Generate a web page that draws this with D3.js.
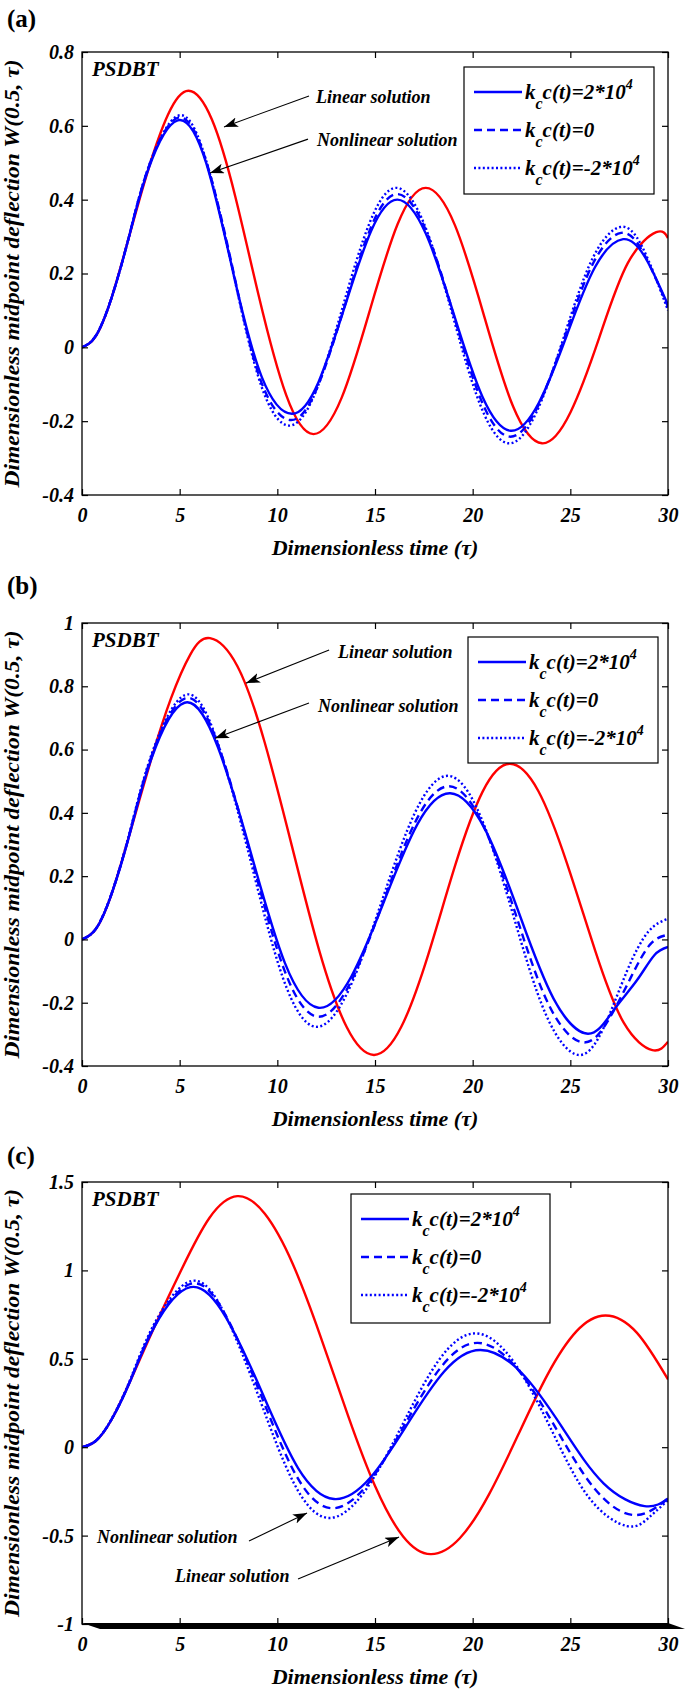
<!DOCTYPE html>
<html><head><meta charset="utf-8">
<script src="https://cdn.jsdelivr.net/npm/d3@7"></script>
<style>
body{margin:0;background:#fff}
svg{display:block}
text{font-family:'Liberation Serif','Times New Roman',serif;}
</style>
</head><body>
<script>
// ---------- data ----------
const tDomain = [0, 30];
const xTicks = [0, 5, 10, 15, 20, 25, 30];
const yTicksA = [-0.4, -0.2, 0, 0.2, 0.4, 0.6, 0.8];
const yTicksB = [-0.4, -0.2, 0, 0.2, 0.4, 0.6, 0.8, 1];
const yTicksC = [-1, -0.5, 0, 0.5, 1, 1.5];
const legendLabels = [
  {main: "c(t)=2*10", sup: "4"},
  {main: "c(t)=0", sup: ""},
  {main: "c(t)=-2*10", sup: "4"}
];
const xTitle = "Dimensionless time (τ)";
const yTitle = "Dimensionless midpoint deflection W(0.5, τ)";

// panel (a): [tau, W]
const aLinear = [[0,0],[0.7,0.03],[1.5,0.132],[2.4,0.298],[3.4,0.483],[4.4,0.63],[5.45,0.695],[6.65,0.617],[7.85,0.408],[9.05,0.139],[10.45,-0.129],[11.85,-0.235],[13.29,-0.137],[14.73,0.099],[16.16,0.334],[17.6,0.432],[19.09,0.331],[20.58,0.086],[22.06,-0.159],[23.55,-0.26],[25.01,-0.176],[26.48,0.026],[27.94,0.228],[29.4,0.312],[30,0.296]];
const aKcPos = [[0,0],[0.7,0.03],[1.5,0.132],[2.4,0.298],[3.4,0.483],[4.9,0.615],[6.36,0.499],[7.75,0.2],[9.2,-0.08],[10.75,-0.18],[12.1,-0.095],[13.45,0.11],[14.8,0.315],[16.15,0.4],[17.6,0.308],[19.05,0.087],[20.5,-0.134],[21.95,-0.226],[23.39,-0.15],[24.83,0.034],[26.26,0.217],[27.7,0.293],[28.85,0.242],[30,0.115]];
const aKcZero = [[0,0],[0.7,0.031],[1.5,0.132],[2.4,0.299],[3.4,0.487],[4.92,0.622],[6.37,0.502],[7.75,0.205],[9.15,-0.09],[10.7,-0.197],[12.06,-0.107],[13.43,0.109],[14.79,0.325],[16.15,0.415],[17.59,0.319],[19.03,0.087],[20.46,-0.146],[21.9,-0.242],[23.33,-0.161],[24.75,0.034],[26.18,0.229],[27.6,0.31],[28.75,0.255],[30,0.11]];
const aKcNeg = [[0,0],[0.7,0.031],[1.5,0.132],[2.4,0.299],[3.4,0.488],[4.95,0.628],[6.36,0.505],[7.75,0.2],[9.15,-0.1],[10.6,-0.212],[11.98,-0.118],[13.35,0.11],[14.73,0.338],[16.1,0.432],[17.54,0.331],[18.98,0.086],[20.41,-0.159],[21.85,-0.26],[23.28,-0.174],[24.7,0.033],[26.13,0.24],[27.55,0.326],[28.7,0.27],[30,0.1]];

// panel (b)
const bLinear = [[0,0],[0.7,0.032],[1.5,0.141],[2.45,0.335],[3.55,0.571],[4.55,0.761],[5.55,0.901],[6.55,0.952],[7.95,0.864],[9.35,0.623],[10.75,0.294],[12.15,-0.036],[13.55,-0.277],[14.95,-0.365],[16.34,-0.277],[17.73,-0.047],[19.12,0.237],[20.51,0.467],[21.9,0.555],[23.36,0.469],[24.82,0.242],[26.28,-0.037],[27.74,-0.264],[29.2,-0.35],[30,-0.323]];
const bKcPos = [[0,0],[0.7,0.032],[1.5,0.141],[2.45,0.335],[3.55,0.571],[5.25,0.748],[6.96,0.607],[8.68,0.266],[10.39,-0.075],[12.1,-0.216],[13.79,-0.117],[15.48,0.123],[17.16,0.363],[18.85,0.462],[20.61,0.351],[22.38,0.082],[24.14,-0.187],[25.9,-0.298],[27.2,-0.225],[28.4,-0.13],[29.3,-0.05],[30,-0.024]];
const bKcZero = [[0,0],[0.7,0.033],[1.5,0.142],[2.45,0.338],[3.55,0.578],[5.28,0.762],[6.97,0.615],[8.67,0.259],[10.36,-0.097],[12.05,-0.244],[13.74,-0.137],[15.43,0.12],[17.11,0.377],[18.8,0.484],[20.5,0.366],[22.2,0.08],[23.9,-0.207],[25.6,-0.325],[26.9,-0.26],[28.1,-0.12],[29.1,-0.015],[30,0.015]];
const bKcNeg = [[0,0],[0.7,0.033],[1.5,0.143],[2.45,0.341],[3.55,0.583],[5.3,0.773],[6.96,0.619],[8.63,0.249],[10.29,-0.122],[11.95,-0.276],[13.65,-0.16],[15.35,0.121],[17.05,0.401],[18.75,0.517],[20.41,0.388],[22.08,0.076],[23.74,-0.236],[25.4,-0.365],[26.7,-0.28],[27.9,-0.1],[29.0,0.025],[30,0.065]];

// panel (c)
const cLinear = [[0,0],[0.7,0.035],[1.5,0.154],[2.5,0.382],[3.7,0.679],[5.12,1.011],[6.53,1.298],[7.95,1.42],[9.36,1.32],[10.78,1.039],[12.19,0.633],[13.61,0.182],[15.02,-0.224],[16.44,-0.505],[17.85,-0.605],[19.34,-0.515],[20.83,-0.268],[22.33,0.07],[23.82,0.408],[25.31,0.655],[26.8,0.745],[28.4,0.648],[30,0.383]];
const cKcPos = [[0,0],[0.7,0.035],[1.5,0.154],[2.5,0.382],[3.7,0.679],[5.55,0.905],[7.39,0.73],[9.23,0.306],[11.06,-0.118],[12.9,-0.293],[14.78,-0.17],[16.65,0.129],[18.53,0.427],[20.4,0.55],[22.5,0.421],[24.6,0.109],[26.7,-0.204],[28.8,-0.333],[30,-0.29]];
const cKcZero = [[0,0],[0.7,0.035],[1.5,0.154],[2.5,0.385],[3.7,0.686],[5.6,0.925],[7.39,0.739],[9.18,0.29],[10.96,-0.159],[12.75,-0.345],[14.63,-0.208],[16.5,0.123],[18.38,0.453],[20.25,0.59],[22.26,0.447],[24.28,0.103],[26.29,-0.241],[28.3,-0.384],[30,-0.29]];
const cKcNeg = [[0,0],[0.7,0.036],[1.5,0.157],[2.5,0.391],[3.7,0.698],[5.6,0.94],[7.35,0.744],[9.1,0.27],[10.85,-0.204],[12.6,-0.4],[14.49,-0.247],[16.38,0.122],[18.26,0.491],[20.15,0.644],[22.09,0.484],[24.03,0.099],[25.96,-0.286],[27.9,-0.446],[29.0,-0.4],[30,-0.3]];

// annotations in data units: text anchor, arrow tail, arrow head
const notesA = [
  {text:"Linear solution", at:[11.98,0.662], from:[11.62,0.681], to:[7.27,0.597]},
  {text:"Nonlinear solution", at:[12.03,0.545], from:[11.57,0.564], to:[6.55,0.472]}
];
const notesB = [
  {text:"Linear solution", at:[13.11,0.889], from:[12.65,0.915], to:[8.40,0.81]},
  {text:"Nonlinear solution", at:[12.08,0.719], from:[11.62,0.747], to:[6.81,0.636]}
];
const notesC = [
  {text:"Nonlinear solution", at:[0.77,-0.542], from:[8.55,-0.531], to:[11.52,-0.372]},
  {text:"Linear solution", at:[4.76,-0.762], from:[11.06,-0.745], to:[16.23,-0.508]}
];

// ---------- layout & style ----------
const W = 685, H = 1693;
const plotLeft = 82, plotRight = 668;
const seriesStyle = [
  {color:"#ff0000", dash:null},
  {color:"#0000ff", dash:null},
  {color:"#0000ff", dash:"8,5"},
  {color:"#0000ff", dash:"2,2.4"}
];
const panels = [
  {label:"(a)", labelY:27, top:52, bottom:495, yDomain:[-0.4,0.8], yTicks:yTicksA,
   series:[aLinear,aKcPos,aKcZero,aKcNeg], legend:{x:464,y:67,w:190,h:127}, notes:notesA, band:false},
  {label:"(b)", labelY:594, top:623, bottom:1066, yDomain:[-0.4,1], yTicks:yTicksB,
   series:[bLinear,bKcPos,bKcZero,bKcNeg], legend:{x:468,y:637,w:190,h:126}, notes:notesB, band:false},
  {label:"(c)", labelY:1164, top:1182, bottom:1624, yDomain:[-1,1.5], yTicks:yTicksC,
   series:[cLinear,cKcPos,cKcZero,cKcNeg], legend:{x:351,y:1194,w:199,h:129}, notes:notesC, band:true}
];

const svg = d3.select("body").append("svg").attr("width", W).attr("height", H);
svg.append("rect").attr("width", W).attr("height", H).attr("fill", "#fff");

const defs = svg.append("defs");
defs.append("marker").attr("id","arrow").attr("markerUnits","userSpaceOnUse")
  .attr("markerWidth",16).attr("markerHeight",12).attr("refX",14).attr("refY",5)
  .attr("orient","auto")
  .append("path").attr("d","M0,0 L14,5 L0,10 L3.5,5 Z").attr("fill","#000");

const x = d3.scaleLinear().domain(tDomain).range([plotLeft, plotRight]);
const fmt = d => String(d);

panels.forEach((p, pi) => {
  const y = d3.scaleLinear().domain(p.yDomain).range([p.bottom, p.top]);
  const g = svg.append("g");

  // panel label
  g.append("text").attr("x", 7).attr("y", p.labelY).text(p.label)
    .attr("font-size", 25).attr("font-weight", "bold");

  // clip
  const cid = "clip" + pi;
  defs.append("clipPath").attr("id", cid).append("rect")
    .attr("x", plotLeft).attr("y", p.top).attr("width", plotRight - plotLeft).attr("height", p.bottom - p.top);

  // curves
  const line = d3.line().x(d => x(d[0])).y(d => y(d[1])).curve(d3.curveNatural);
  const cg = g.append("g").attr("clip-path", `url(#${cid})`);
  p.series.forEach((s, si) => {
    const st = seriesStyle[si];
    cg.append("path").attr("d", line(s)).attr("fill", "none")
      .attr("stroke", st.color).attr("stroke-width", 2.4)
      .attr("stroke-dasharray", st.dash).attr("stroke-linejoin", "round");
  });

  // axes (inner ticks on all four sides)
  const axB = g.append("g").attr("transform", `translate(0,${p.bottom})`)
    .call(d3.axisBottom(x).tickValues(xTicks).tickSizeInner(-6).tickSizeOuter(0).tickPadding(13).tickFormat(fmt));
  const axT = g.append("g").attr("transform", `translate(0,${p.top})`)
    .call(d3.axisTop(x).tickValues(xTicks).tickSizeInner(-6).tickSizeOuter(0).tickFormat(""));
  const axL = g.append("g").attr("transform", `translate(${plotLeft},0)`)
    .call(d3.axisLeft(y).tickValues(p.yTicks).tickSizeInner(-6).tickSizeOuter(0).tickPadding(8).tickFormat(fmt));
  const axR = g.append("g").attr("transform", `translate(${plotRight},0)`)
    .call(d3.axisRight(y).tickValues(p.yTicks).tickSizeInner(-6).tickSizeOuter(0).tickFormat(""));
  [axB, axT, axL, axR].forEach(a => {
    a.select(".domain").remove();
    a.selectAll("line").attr("stroke", "#000").attr("stroke-width", 1.2);
    a.selectAll("text").attr("font-size", 20).attr("font-weight", "bold")
      .attr("font-style", "italic").attr("fill", "#000")
      .style("font-family", "'Liberation Serif','Times New Roman',serif");
  });

  // frame
  g.append("rect").attr("x", plotLeft).attr("y", p.top)
    .attr("width", plotRight - plotLeft).attr("height", p.bottom - p.top)
    .attr("fill", "none").attr("stroke", "#000").attr("stroke-width", 1.3);

  // shadow band under bottom axis (panel c)
  if (p.band) {
    const yb = y(p.yDomain[0]);
    g.append("path").attr("fill", "#000")
      .attr("d", `M${x(0)},${yb - 1} L${x(30)},${yb - 1} L${x(30) + 17},${yb + 5} L${x(0) + 18},${yb + 5} Z`);
  }

  // PSDBT
  g.append("text").attr("x", x(0) + 10).attr("y", p.top + 24).text("PSDBT")
    .attr("font-size", 21).attr("font-weight", "bold").attr("font-style", "italic");

  // axis titles
  g.append("text").attr("x", (plotLeft + plotRight) / 2).attr("y", p.bottom + 60)
    .attr("text-anchor", "middle").text(xTitle)
    .attr("font-size", 22).attr("font-weight", "bold").attr("font-style", "italic");
  g.append("text").attr("transform", `translate(19,${(p.top + p.bottom) / 2}) rotate(-90)`)
    .attr("text-anchor", "middle").text(yTitle)
    .attr("textLength", 428).attr("lengthAdjust", "spacingAndGlyphs")
    .attr("font-size", 22).attr("font-weight", "bold").attr("font-style", "italic");

  // annotations
  p.notes.forEach(n => {
    g.append("line").attr("x1", x(n.from[0])).attr("y1", y(n.from[1]))
      .attr("x2", x(n.to[0])).attr("y2", y(n.to[1]))
      .attr("stroke", "#000").attr("stroke-width", 1.1).attr("marker-end", "url(#arrow)");
    g.append("text").attr("x", x(n.at[0])).attr("y", y(n.at[1])).text(n.text)
      .attr("font-size", 18).attr("font-weight", "bold").attr("font-style", "italic");
  });

  // legend
  const L = p.legend;
  const lg = g.append("g");
  lg.append("rect").attr("x", L.x).attr("y", L.y).attr("width", L.w).attr("height", L.h)
    .attr("fill", "#fff").attr("stroke", "#000").attr("stroke-width", 1.2);
  const rowOff = [25, 63, 101];
  legendLabels.forEach((lab, i) => {
    const st = seriesStyle[i + 1];
    const ry = L.y + rowOff[i];
    lg.append("line").attr("x1", L.x + 10).attr("x2", L.x + 58).attr("y1", ry).attr("y2", ry)
      .attr("stroke", st.color).attr("stroke-width", 2.4).attr("stroke-dasharray", st.dash);
    const t = lg.append("text").attr("x", L.x + 61).attr("y", ry + 7)
      .attr("font-weight", "bold").attr("font-style", "italic").attr("font-size", 21);
    t.append("tspan").text("k");
    t.append("tspan").text("c").attr("font-size", 16).attr("dy", 10);
    t.append("tspan").text(lab.main).attr("dy", -10);
    if (lab.sup) t.append("tspan").text(lab.sup).attr("font-size", 14).attr("dy", -10);
  });
});
</script>
</body></html>
